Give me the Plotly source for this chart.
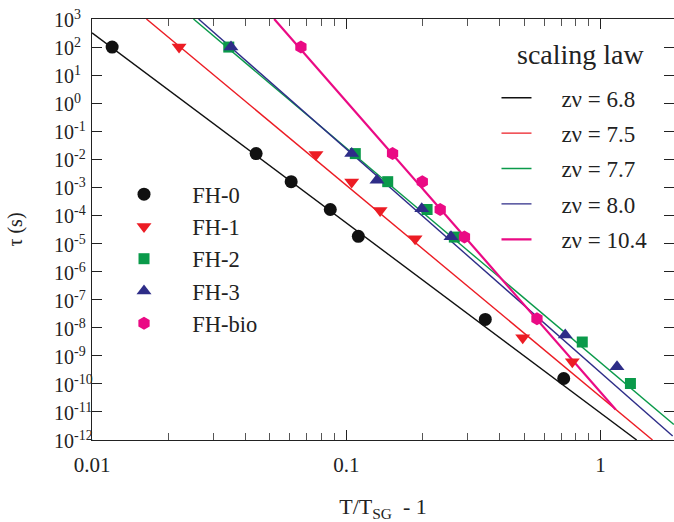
import plotly.graph_objects as go

# ---------------- data ----------------
fh0_x = [0.012, 0.0442, 0.0607, 0.0865, 0.1115, 0.352, 0.716]
fh0_y = [100, 0.016, 0.0016, 1.63e-4, 1.8e-5, 1.97e-8, 1.55e-10]

fh1_x = [0.022, 0.076, 0.105, 0.1358, 0.1864, 0.494, 0.774]
fh1_y = [100, 0.015, 0.00155, 1.5e-4, 1.48e-5, 4.4e-9, 6.2e-10]

fh2_x = [0.0345, 0.1085, 0.1455, 0.2078, 0.266, 0.847, 1.31]
fh2_y = [100, 0.016, 0.0016, 1.63e-4, 1.7e-5, 3.1e-9, 1.03e-10]

fh3_x = [0.0352, 0.105, 0.132, 0.198, 0.258, 0.726, 1.16]
fh3_y = [100, 0.016, 0.0018, 1.73e-4, 1.74e-5, 5.5e-9, 4.1e-10]

bio_x = [0.0663, 0.152, 0.199, 0.234, 0.2915, 0.562]
bio_y = [100, 0.016, 0.0016, 1.63e-4, 1.7e-5, 2.1e-8]

# scaling-law lines: end points
law_labels = ["zν = 6.8", "zν = 7.5", "zν = 7.7", "zν = 8.0", "zν = 10.4"]
law_x = [[0.01, 1.386], [0.01637, 1.60], [0.02506, 1.94], [0.02624, 1.92], [0.05205, 1.146]]
law_y = [[322, 1e-12], [1e3, 1e-12], [1e3, 3.58e-12], [1e3, 1.38e-12], [1e3, 1.23e-11]]

x_tickvals = [0.01, 0.1, 1]
x_ticktext = ["0.01", "0.1", "1"]
y_exponents = list(range(-12, 4))
y_ticktext = ["10<sup>%d</sup>" % e for e in y_exponents]

# ---------------- styles ----------------
C_BLACK = "#111111"
C_RED = "#ec1c24"
C_GREEN = "#0a9a4a"
C_BLUE = "#2e2d88"
C_MAG = "#ea0a84"
law_colors = [C_BLACK, C_RED, C_GREEN, C_BLUE, C_MAG]
law_widths = [1.4, 1.4, 1.4, 1.4, 2.2]

FONT = "'Liberation Serif', 'Times New Roman', Times, serif"
TXT = "#222222"
pad_law = "\u00a0" * 4 + "\u200a"
pad_fh = "\u00a0" * 5

fig = go.Figure()

for i, (lx, ly) in enumerate(zip(law_x, law_y)):
    fig.add_trace(go.Scatter(
        x=lx, y=ly, mode="lines", name=pad_law + law_labels[i],
        line=dict(color=law_colors[i], width=law_widths[i]),
        legend="legend2", legendgroup="law%d" % i, showlegend=True))

series = [
    ("FH-0", fh0_x, fh0_y, "circle", C_BLACK, 13),
    ("FH-1", fh1_x, fh1_y, "triangle-down", C_RED, 13),
    ("FH-2", fh2_x, fh2_y, "square", C_GREEN, 11),
    ("FH-3", fh3_x, fh3_y, "triangle-up", C_BLUE, 13),
    ("FH-bio", bio_x, bio_y, "hexagon", C_MAG, 13),
]
for name, xs, ys, sym, col, sz in series:
    fig.add_trace(go.Scatter(
        x=xs, y=ys, mode="markers", name=pad_fh + name,
        marker=dict(symbol=sym, color=col, size=sz, line=dict(width=0)),
        legend="legend", legendgroup=name))

axis_common = dict(
    type="log", showline=True, linecolor=TXT, linewidth=1.3, mirror="ticks",
    ticks="inside", ticklen=10, tickwidth=1.2, tickcolor=TXT,
    showgrid=False, zeroline=False, automargin=False, ticklabeloverflow="allow",
    tickfont=dict(family=FONT, size=21, color=TXT),
)

fig.update_xaxes(
    **axis_common, range=[-2, 0.2886],
    tickvals=x_tickvals, ticktext=x_ticktext, ticklabelstandoff=6,
    minor=dict(ticks="inside", ticklen=7, tickwidth=1, tickcolor="#555555", dtick="D1", showgrid=False),
    title=dict(text="T/T<sub>SG</sub>\u00a0\u00a0- 1", font=dict(family=FONT, size=22, color=TXT), standoff=24),
)
# y tick labels are left-aligned in the reference, so they are drawn as
# annotations placed on the axis' own scale; the axis keeps the tick marks
fig.update_yaxes(
    **axis_common, range=[-12, 3],
    tickvals=[10.0 ** e for e in y_exponents],
    showticklabels=False,
    title=dict(text="τ (s)", font=dict(family=FONT, size=20, color=TXT), standoff=62),
)

annotations = [dict(text=t, x=-0.067, y=e, xref="paper", yref="y",
                    xanchor="left", yanchor="middle", showarrow=False, borderpad=0,
                    font=dict(family=FONT, size=20, color=TXT))
               for e, t in zip(y_exponents, y_ticktext)]
annotations.append(dict(text="scaling law", x=0.8404, y=0.915, xref="paper", yref="paper",
                        xanchor="center", yanchor="middle", showarrow=False,
                        font=dict(family=FONT, size=28, color=TXT)))

fig.update_layout(
    width=674, height=522,
    margin=dict(l=92, r=0, t=19, b=82, autoexpand=False),
    paper_bgcolor="white", plot_bgcolor="white",
    font=dict(family=FONT, color=TXT),
    legend=dict(x=0.055, y=0.634, xanchor="left", yanchor="top",
                bgcolor="rgba(0,0,0,0)", font=dict(family=FONT, size=22.5, color=TXT),
                tracegroupgap=0, itemsizing="trace"),
    legend2=dict(x=0.695, y=0.864, xanchor="left", yanchor="top",
                 bgcolor="rgba(0,0,0,0)", font=dict(family=FONT, size=23, color=TXT),
                 tracegroupgap=2.5),
    annotations=annotations,
)

# remove the browser's default 8 px body margin so the figure fills the window
fig.write_html("out.html", config={"displayModeBar": False},
               post_script="document.body.style.margin='0px';")
